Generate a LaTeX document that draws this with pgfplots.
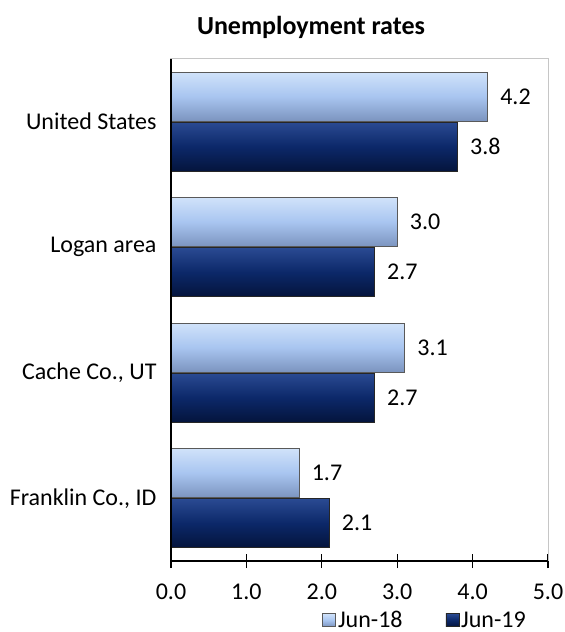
\documentclass[border=0pt]{standalone}
\usepackage{fontspec}
\setmainfont{Carlito}
\usepackage{pgfplots}
\pgfplotsset{compat=1.18}
\definecolor{lightbar}{HTML}{A8C5F0}
\definecolor{lighttop}{HTML}{D0E2FA}
\definecolor{lightbot}{HTML}{7B93BE}
\definecolor{darkbar}{HTML}{0C2869}
\definecolor{darktop}{HTML}{2A4A92}
\definecolor{darkbot}{HTML}{04143C}
\newcommand{\cf}{\fontsize{24}{28}\selectfont}
\pgfplotsset{
  j18/.style={bar shift=25pt, draw=gray!70!black, line width=0.6pt,
    top color=lighttop, bottom color=lightbot, middle color=lightbar},
  j19/.style={bar shift=-25pt, draw=black!85, line width=0.6pt,
    top color=darktop, bottom color=darkbot, middle color=darkbar},
}
\begin{document}
\begin{tikzpicture}
\path[use as bounding box] (0,0) rectangle (565pt,632pt);
\node[font=\bfseries\fontsize{26}{30}\selectfont] at (311pt,605pt) {Unemployment rates};
\begin{axis}[
  at={(171pt,71pt)}, anchor=south west,
  scale only axis, width=377pt, height=502pt,
  clip=false,
  xbar, bar width=49pt,
  xmin=0, xmax=5, ymin=-0.5, ymax=3.5,
  axis line style={draw=gray!45, line width=1pt},
  xtick={0,1,2,3,4,5},
  xtick pos=bottom, xtick align=center,
  major tick length=14pt,
  xtick style={black, line width=1.3pt},
  ytick={0,1,2,3},
  yticklabels={{Franklin Co., ID},{Cache Co., UT},{Logan area},{United States}},
  ytick style={draw=none},
  yticklabel style={font=\cf, xshift=3pt},
  xticklabel style={font=\cf, anchor=center},
  xticklabel shift=0pt,
  xticklabel={\raisebox{-31pt}[0pt][0pt]{\pgfmathprintnumber[fixed,fixed zerofill,precision=1,assume math mode=true]{\tick}}},
  /pgf/number format/assume math mode=true,
  /pgf/number format/.cd, fixed, fixed zerofill, precision=1, /pgfplots/.cd,
  point meta=explicit,
  nodes near coords={\pgfmathprintnumber[fixed,fixed zerofill,precision=1,assume math mode=true]{\pgfplotspointmeta}},
  nodes near coords style={font=\cf, anchor=west, xshift=9pt, black},
  legend style={at={(0.674,-0.118)}, anchor=center, draw=none, fill=none,
    font=\cf, legend columns=2, inner sep=1pt,
    /tikz/every even column/.append style={column sep=41pt}},
  legend image code/.code={\draw[#1] (0pt,-6.5pt) rectangle (13pt,6.5pt);},
]
\addplot[j18] coordinates {(4.2,3) [4.2]};
\addlegendentry{Jun-18}
\addplot[j19] coordinates {(3.8,3) [3.8]};
\addlegendentry{Jun-19}
\addplot[j18, forget plot] coordinates {(3.0,2) [3.0]};
\addplot[j18, forget plot] coordinates {(3.1,1) [3.1]};
\addplot[j18, forget plot] coordinates {(1.7,0) [1.7]};
\addplot[j19, forget plot] coordinates {(2.7,2) [2.7]};
\addplot[j19, forget plot] coordinates {(2.7,1) [2.7]};
\addplot[j19, forget plot] coordinates {(2.1,0) [2.1]};
\draw[black, line width=1.3pt] (rel axis cs:0,1) -- (rel axis cs:0,0) -- (rel axis cs:1,0);
\end{axis}
\end{tikzpicture}
\end{document}
